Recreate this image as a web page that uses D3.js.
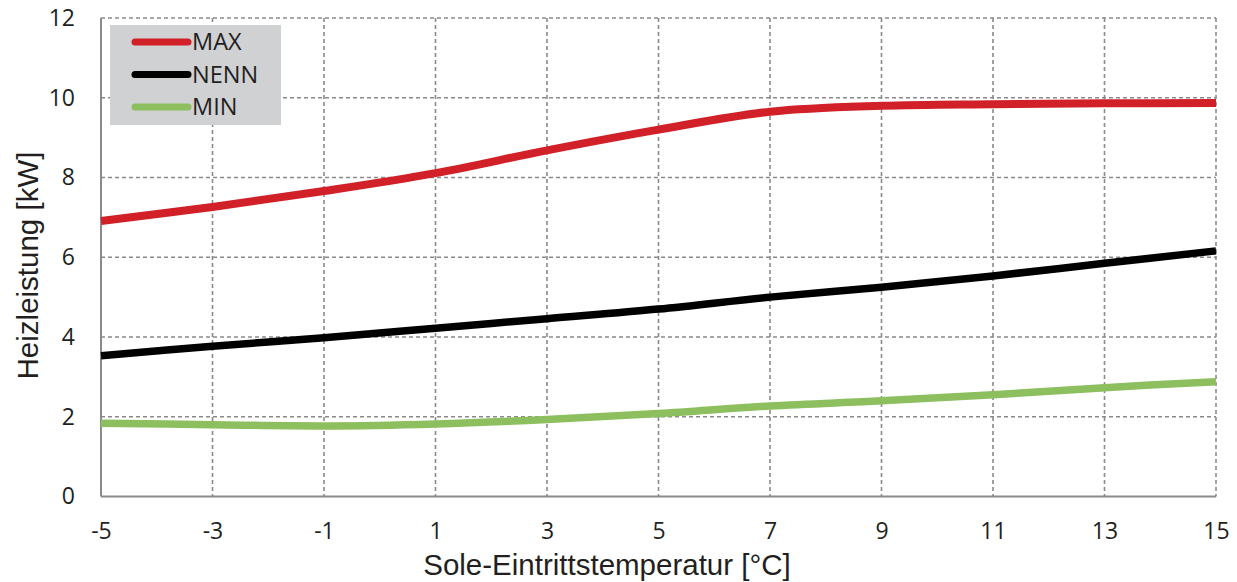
<!DOCTYPE html>
<html><head><meta charset="utf-8">
<script src="https://cdn.jsdelivr.net/npm/d3@7"></script>
<style>body{margin:0;background:#fff}svg{display:block}text{font-family:"Open Sans","Noto Sans",sans-serif;fill:#231f20}text.ttl{font-family:"Liberation Sans",Arial,sans-serif}</style>
</head><body><svg id="c" width="1237" height="582"></svg>
<script>
const temps = [-5,-3,-1,1,3,5,7,9,11,13,15];
const maxVals = [6.91,7.26,7.66,8.11,8.68,9.2,9.65,9.8,9.84,9.86,9.87];
const nennVals = [3.53,3.77,3.98,4.22,4.46,4.7,5.0,5.25,5.53,5.85,6.16];
const minVals = [1.84,1.8,1.77,1.82,1.93,2.08,2.27,2.4,2.55,2.73,2.88];
const yTicks = [0,2,4,6,8,10,12];
const seriesNames = ["MAX","NENN","MIN"];
const seriesColors = ["#d12027","#000000","#8dbf5e"];
const seriesData = [maxVals,nennVals,minVals];

const svg = d3.select("#c");
const L=101, R=1216, T=18, B=496.5;
const x = d3.scaleLinear().domain([-5,15]).range([L,R]);
const y = d3.scaleLinear().domain([0,12]).range([B,T]);

const grid = svg.append("g").attr("stroke","#8a8a8c").attr("stroke-width",1.6).attr("stroke-dasharray","4,3");
temps.slice(1).forEach(t=>grid.append("line").attr("x1",x(t)).attr("x2",x(t)).attr("y1",T).attr("y2",B));
yTicks.slice(1).forEach(v=>grid.append("line").attr("x1",L).attr("x2",R).attr("y1",y(v)).attr("y2",y(v)));
svg.append("line").attr("x1",L).attr("x2",L).attr("y1",T).attr("y2",B).attr("stroke","#8a8a8c").attr("stroke-width",2);
svg.append("line").attr("x1",L).attr("x2",R).attr("y1",B).attr("y2",B).attr("stroke","#8a8a8c").attr("stroke-width",2);

const xAxis = svg.append("g").attr("transform",`translate(0,${B})`).call(d3.axisBottom(x).tickValues(temps).tickSize(0).tickPadding(26).tickFormat(d=>d<0?"-"+Math.abs(d):d));
const yAxis = svg.append("g").attr("transform",`translate(${L},0)`).call(d3.axisLeft(y).tickValues(yTicks).tickSize(0).tickPadding(26));
[xAxis,yAxis].forEach(a=>{a.select(".domain").remove();a.selectAll("text").attr("font-size",23).attr("fill","#231f20");});

const line = d3.line().x((d,i)=>x(temps[i])).y(d=>y(d)).curve(d3.curveCatmullRom.alpha(0.5));
seriesData.forEach((s,k)=>{
  svg.append("path").datum(s).attr("d",line).attr("fill","none").attr("stroke",seriesColors[k]).attr("stroke-width",k===0?8:7.5);
});

const lg = svg.append("g");
lg.append("rect").attr("x",110).attr("y",25).attr("width",171).attr("height",100).attr("fill","#d0d1d3");
seriesNames.forEach((n,k)=>{
  const yy = 42 + k*32.5;
  lg.append("line").attr("x1",135).attr("x2",188).attr("y1",yy).attr("y2",yy).attr("stroke",seriesColors[k]).attr("stroke-width",7).attr("stroke-linecap","round");
  lg.append("text").attr("x",192).attr("y",yy+8.4).attr("font-size",23.5).text(n);
});

svg.append("text").attr("class","ttl").attr("x",607).attr("y",575).attr("text-anchor","middle").attr("font-size",29.5).text("Sole-Eintrittstemperatur [°C]");
svg.append("text").attr("class","ttl").attr("transform",`translate(38,265.5) rotate(-90)`).attr("text-anchor","middle").attr("font-size",29.5).text("Heizleistung [kW]");
</script></body></html>
